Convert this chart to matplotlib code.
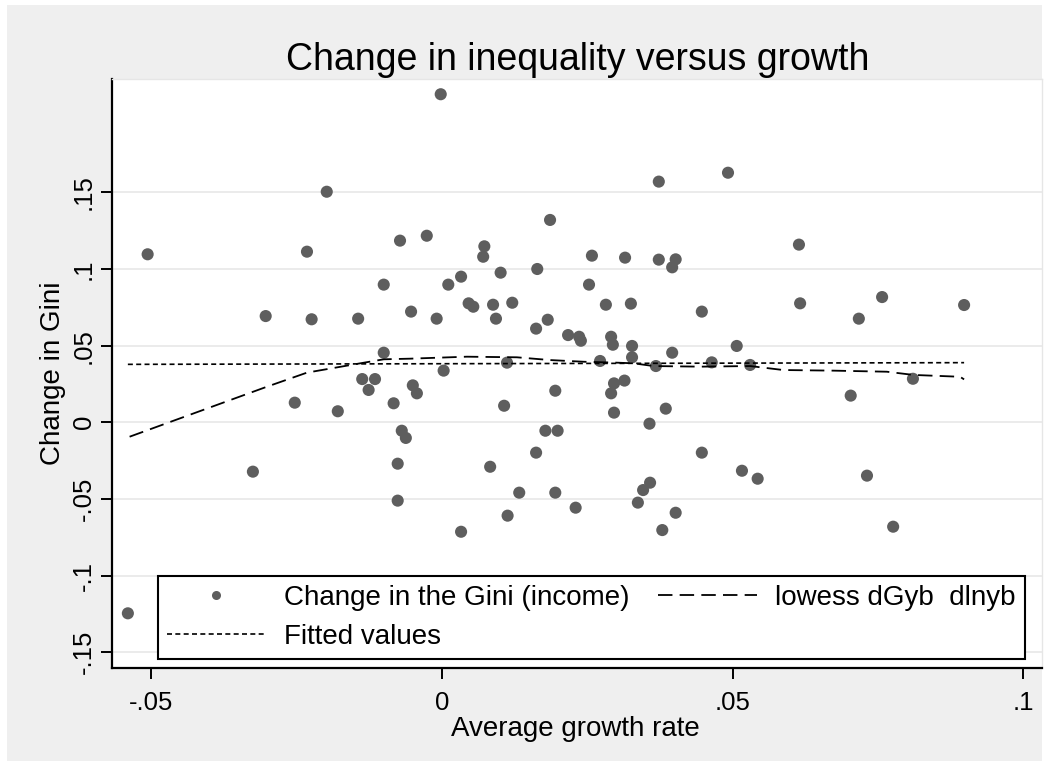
import numpy as np
import matplotlib
matplotlib.use("Agg")
import matplotlib.pyplot as plt
from matplotlib.lines import Line2D
from matplotlib.patches import Rectangle

plt.rcParams['font.family'] = ['Liberation Sans', 'DejaVu Sans']

# Average growth rate (dlnyb) and change in the Gini (dGyb), one entry per spell
growth = [
    -0.0198, -0.0506, -0.0232, -0.0072, -0.0100, -0.0303, -0.0224, -0.0144, -0.0053, -0.0002,
    0.0373, -0.0026, 0.0073, 0.0071, 0.0186, 0.0258, 0.0315, 0.0373, 0.0402, 0.0396,
    0.0164, 0.0101, 0.0033, 0.0011, 0.0253, 0.0046, 0.0054, 0.0088, 0.0121, -0.0009,
    0.0093, 0.0282, 0.0325, 0.0447, 0.0162, 0.0182, 0.0217, 0.0236, 0.0239, 0.0291,
    0.0294, 0.0327, 0.0396, 0.0492, 0.0614, 0.0616, 0.0757, 0.0717, 0.0898, 0.0507,
    -0.0100, -0.0137, -0.0115, -0.0126, -0.0253, -0.0179, -0.0083, -0.0050, -0.0043, -0.0069,
    -0.0062, -0.0076, -0.0076, -0.0325, 0.0327, 0.0112, 0.0272, 0.0368, 0.0464, 0.0003,
    0.0296, 0.0314, 0.0291, 0.0195, 0.0107, 0.0296, 0.0385, 0.0357, 0.0178, 0.0199,
    0.0162, 0.0447, 0.0083, 0.0133, 0.0195, 0.0358, 0.0346, 0.0337, 0.0402, 0.0379,
    0.0230, 0.0113, 0.0033, 0.0530, 0.0703, 0.0810, 0.0516, 0.0543, 0.0731, 0.0776,
    -0.0540,
]
gini_change = [
    0.1504, 0.1096, 0.1113, 0.1185, 0.0898, 0.0693, 0.0672, 0.0676, 0.0722, 0.2140,
    0.1570, 0.1217, 0.1148, 0.1080, 0.1320, 0.1087, 0.1074, 0.1061, 0.1063, 0.1011,
    0.1000, 0.0976, 0.0950, 0.0898, 0.0898, 0.0776, 0.0754, 0.0767, 0.0780, 0.0676,
    0.0676, 0.0767, 0.0774, 0.0722, 0.0611, 0.0669, 0.0569, 0.0558, 0.0532, 0.0558,
    0.0506, 0.0498, 0.0454, 0.1628, 0.1159, 0.0776, 0.0817, 0.0676, 0.0765, 0.0498,
    0.0454, 0.0282, 0.0282, 0.0211, 0.0128, 0.0072, 0.0124, 0.0241, 0.0189, -0.0055,
    -0.0102, -0.0270, -0.0511, -0.0322, 0.0424, 0.0389, 0.0400, 0.0367, 0.0391, 0.0337,
    0.0254, 0.0272, 0.0189, 0.0206, 0.0108, 0.0063, 0.0089, -0.0009, -0.0055, -0.0055,
    -0.0198, -0.0198, -0.0290, -0.0459, -0.0459, -0.0394, -0.0442, -0.0524, -0.0590, -0.0703,
    -0.0557, -0.0609, -0.0714, 0.0374, 0.0174, 0.0284, -0.0316, -0.0368, -0.0348, -0.0681,
    -0.1246,
]

# Linear fit (fitted values) at the two ends of the growth range
fitted_x = [-0.0540, 0.0898]
fitted_y = [0.0378, 0.0389]

# Lowess smooth of dGyb on dlnyb
lowess_x = [-0.0537, -0.0301, -0.0232, -0.0140, -0.0100, -0.0055, 0.0043, 0.0129, 0.0186,
            0.0244, 0.0301, 0.0329, 0.0364, 0.0444, 0.0530, 0.0587, 0.0673, 0.0765,
            0.0811, 0.0891, 0.0898]
lowess_y = [-0.0094, 0.0232, 0.0324, 0.0385, 0.0411, 0.0415, 0.0428, 0.0424, 0.0406,
            0.0395, 0.0389, 0.0385, 0.0367, 0.0363, 0.0367, 0.0341, 0.0337, 0.0330,
            0.0309, 0.0297, 0.0280]

x_ticks = [-0.05, 0.0, 0.05, 0.1]
x_ticklabels = ['-.05', '0', '.05', '.1']
y_ticks = [-0.15, -0.1, -0.05, 0.0, 0.05, 0.1, 0.15]
y_ticklabels = ['-.15', '-.1', '-.05', '0', '.05', '.1', '.15']

W, H = 1055, 767
fig = plt.figure(figsize=(W / 100, H / 100), dpi=100, facecolor='white')
fig.patches.append(Rectangle((7 / W, 1 - 761 / H), (1042 - 7) / W, (761 - 5) / H,
                             transform=fig.transFigure, facecolor='#efefef',
                             edgecolor='none', zorder=-10))

ax = fig.add_axes([111.7 / W, 1 - 668.3 / H, (1041.5 - 111.7) / W, (668.3 - 79) / H])
ax.set_zorder(1)
ax.set_facecolor('white')
ax.set_xlim(-0.05678, 0.10311)
ax.set_ylim(-0.16047, 0.22394)

ax.yaxis.grid(True, color='#e6e6e6', linewidth=1.1, zorder=0)
ax.set_axisbelow(True)

marker_color = '#5e5e5e'
ax.scatter(growth, gini_change, s=76, color=marker_color, edgecolors='none', zorder=3)
ax.plot(lowess_x, lowess_y, color='black', linewidth=1.3, linestyle=(0, (8, 4)), zorder=4)
ax.plot(fitted_x, fitted_y, color='black', linewidth=1.2, linestyle=(0, (3, 2)), zorder=4)

ax.set_xticks(x_ticks)
ax.set_xticklabels(x_ticklabels)
ax.set_yticks(y_ticks)
ax.set_yticklabels(y_ticklabels, rotation=90, va='center', ha='center')
ax.tick_params(axis='both', length=8, width=1.4, color='black', labelsize=18.5)
ax.tick_params(axis='x', pad=8)
ax.tick_params(axis='y', pad=12)

for side in ('left', 'bottom'):
    ax.spines[side].set_linewidth(1.6)
    ax.spines[side].set_color('black')
for side in ('top', 'right'):
    ax.spines[side].set_linewidth(1.0)
    ax.spines[side].set_color('#e6e6e6')

ax.set_xlabel('Average growth rate', fontsize=20, va='top')
ax.xaxis.set_label_coords(0.4985, -0.081)
ax.set_ylabel('Change in Gini', fontsize=20, va='center')
ax.yaxis.set_label_coords(-0.0632, 0.5)

fig.text(578 / W, 1 - 70 / H, 'Change in inequality versus growth', ha='center',
         va='baseline', fontsize=27)

handles = [
    Line2D([], [], linestyle='none', marker='o', markersize=6.5, color=marker_color,
           markeredgewidth=0),
    Line2D([], [], color='black', linewidth=1.2, linestyle=(0, (3, 2))),
    Line2D([], [], color='black', linewidth=1.3, linestyle=(0, (8, 4))),
]
labels = ['Change in the Gini (income)', 'Fitted values', 'lowess dGyb  dlnyb']
leg = ax.legend(handles, labels, ncol=2, loc='lower left',
                bbox_to_anchor=((157.7 - 111.7) / 929.8, (668.3 - 659) / 589.3),
                borderaxespad=0, fontsize=20, handlelength=3.55, handletextpad=0.66,
                columnspacing=1.05, borderpad=0.32, labelspacing=0.47,
                fancybox=False, framealpha=1, edgecolor='black')
leg.get_frame().set_linewidth(1.5)
leg.set_zorder(6)

fig.savefig('out.png', dpi=100, facecolor='white')
